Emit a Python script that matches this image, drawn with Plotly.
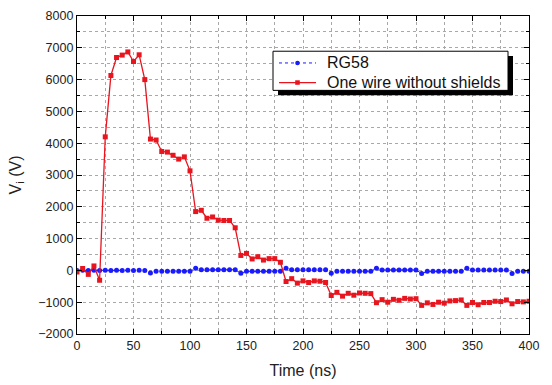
import plotly.graph_objects as go

time_ns = [i * 5 for i in range(81)]

rg58 = [0, 5, 0, 5, 0, 5, 0, 5, 0, 5, 0, 5, 0, -80, -30, -30, -30, -30, -30, -30, -30,
        70, 20, 20, 20, 20, 20, 20, 20, -90, -30, -30, -30, -30, -30, -30, -30,
        70, 20, 20, 20, 20, 20, 20, 20, -90, -30, -30, -30, -30, -30, -30, -30,
        70, 15, 15, 15, 15, 15, 15, 15, -100, -30, -30, -30, -30, -30, -30, -30,
        70, 15, 15, 15, 15, 15, 15, 15, -100, -30, -30, -30]

one_wire = [-50, 60, -125, 140, -310, 4200, 6130, 6695, 6770, 6870, 6570, 6780, 6000,
            4130, 4100, 3740, 3720, 3620, 3500, 3570, 3130,
            1850, 1890, 1640, 1680, 1580, 1570, 1570, 1340, 470, 535,
            360, 430, 325, 370, 370, 255, -350, -260, -400, -330,
            -380, -330, -340, -380, -790, -690, -810, -720, -780, -710,
            -720, -730, -1015, -920, -1000, -910, -940, -880, -900, -890,
            -1100, -1020, -1070, -1000, -1030, -960, -950, -930, -1100, -1010,
            -1080, -1010, -1010, -970, -980, -930, -1050, -980, -990, -970]

series_names = ["RG58", "One wire without shields"]
series_colors = ["#1a1aff", "#e8141e"]

x_ticks = [0, 50, 100, 150, 200, 250, 300, 350, 400]
y_ticks = [-2000, -1000, 0, 1000, 2000, 3000, 4000, 5000, 6000, 7000, 8000]

fig = go.Figure()
fig.add_trace(go.Scatter(
    x=time_ns, y=rg58, name=series_names[0], mode="lines+markers",
    line=dict(color=series_colors[0], width=1, dash="dot"),
    marker=dict(symbol="circle", size=5, color=series_colors[0]),
))
fig.add_trace(go.Scatter(
    x=time_ns, y=one_wire, name=series_names[1], mode="lines+markers",
    line=dict(color=series_colors[1], width=1.3),
    marker=dict(symbol="square", size=5, color=series_colors[1]),
))

font_family = "Liberation Sans, Arial, sans-serif"
axis_common = dict(
    showline=True, linecolor="black", linewidth=1.3, mirror="ticks",
    ticks="inside", ticklen=5, tickcolor="black", tickwidth=1.3,
    showgrid=True, gridcolor="#a8a8a8", griddash="dot", gridwidth=1,
    zeroline=False,
    tickfont=dict(size=12.5, color="#222", family=font_family),
)
fig.update_xaxes(
    range=[0, 400], tickvals=x_ticks,
    minor=dict(dtick=25, ticks="inside", ticklen=3, tickcolor="black",
               showgrid=True, gridcolor="#a8a8a8", griddash="dot"),
    title=dict(text="Time (ns)", font=dict(size=16, color="#222", family=font_family), standoff=12),
    **axis_common,
)
fig.update_yaxes(
    range=[-2000, 8000], tickvals=y_ticks,
    minor=dict(dtick=500, ticks="inside", ticklen=3, tickcolor="black",
               showgrid=True, gridcolor="#a8a8a8", griddash="dot"),
    title=dict(text="V<sub>i</sub> (V)", font=dict(size=16, color="#222", family=font_family), standoff=12),
    **axis_common,
)

# ---- custom legend (box with shadow), positioned in pixel terms ----
PL, PR, PT, PB = 77, 529, 9, 334
def px(x):
    return (x - PL) / (PR - PL)
def py(y):
    return (PB - y) / (PB - PT)

fig.add_shape(type="rect", xref="paper", yref="paper",
              x0=px(278), x1=px(513), y0=py(90), y1=py(50),
              fillcolor="black", line=dict(width=0), layer="above")
fig.add_shape(type="rect", xref="paper", yref="paper",
              x0=px(273), x1=px(508), y0=py(85), y1=py(45),
              fillcolor="white", line=dict(color="black", width=1), layer="above")

entry_y = [57, 77]
for i, (name, color) in enumerate(zip(series_names, series_colors)):
    yy = entry_y[i]
    fig.add_shape(type="line", xref="paper", yref="paper",
                  x0=px(279), x1=px(316), y0=py(yy), y1=py(yy),
                  line=dict(color=color, width=1 if i == 0 else 1.3,
                            dash="dot" if i == 0 else "solid"),
                  layer="above")
    r = 2.3
    fig.add_shape(type="circle" if i == 0 else "rect", xref="paper", yref="paper",
                  x0=px(297.5 - r), x1=px(297.5 + r), y0=py(yy + r), y1=py(yy - r),
                  fillcolor=color, line=dict(width=0), layer="above")
    fig.add_annotation(xref="paper", yref="paper", x=px(325), y=py(yy),
                       xanchor="left", yanchor="middle", showarrow=False,
                       text=name, font=dict(size=16, color="#111", family=font_family))

fig.update_layout(
    width=552, height=385,
    margin=dict(l=PL, r=552 - PR, t=PT, b=385 - PB),
    paper_bgcolor="white", plot_bgcolor="white",
    font=dict(family=font_family),
    showlegend=False,
)

fig.write_html("out.html")
